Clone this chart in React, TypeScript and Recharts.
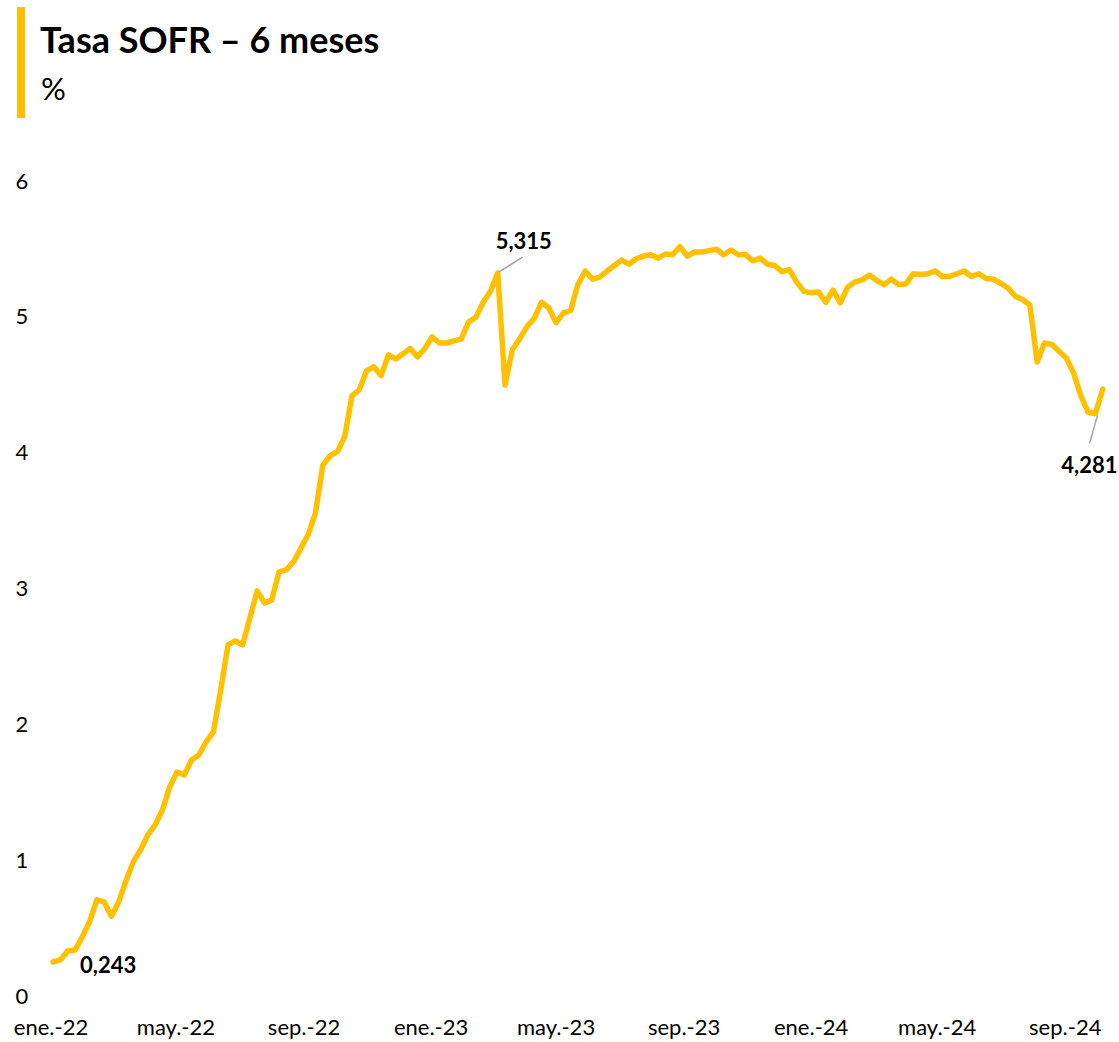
import React from "react";
import { LineChart, Line, XAxis, YAxis } from "recharts";

// weekly observations (Mondays)
const dates = [
  "2022-01-03", "2022-01-10", "2022-01-17", "2022-01-24", "2022-01-31", "2022-02-07", "2022-02-14", "2022-02-21", "2022-02-28",
  "2022-03-07", "2022-03-14", "2022-03-21", "2022-03-28", "2022-04-04", "2022-04-11", "2022-04-18", "2022-04-25",
  "2022-05-02", "2022-05-09", "2022-05-16", "2022-05-23", "2022-05-30", "2022-06-06", "2022-06-13", "2022-06-20", "2022-06-27",
  "2022-07-04", "2022-07-11", "2022-07-18", "2022-07-25", "2022-08-01", "2022-08-08", "2022-08-15", "2022-08-22", "2022-08-29",
  "2022-09-05", "2022-09-12", "2022-09-19", "2022-09-26", "2022-10-03", "2022-10-10", "2022-10-17", "2022-10-24", "2022-10-31",
  "2022-11-07", "2022-11-14", "2022-11-21", "2022-11-28", "2022-12-05", "2022-12-12", "2022-12-19", "2022-12-26",
  "2023-01-02", "2023-01-09", "2023-01-16", "2023-01-23", "2023-01-30", "2023-02-06", "2023-02-13", "2023-02-20", "2023-02-27",
  "2023-03-06", "2023-03-13", "2023-03-20", "2023-03-27", "2023-04-03", "2023-04-10", "2023-04-17", "2023-04-24",
  "2023-05-01", "2023-05-08", "2023-05-15", "2023-05-22", "2023-05-29", "2023-06-05", "2023-06-12", "2023-06-19", "2023-06-26",
  "2023-07-03", "2023-07-10", "2023-07-17", "2023-07-24", "2023-07-31", "2023-08-07", "2023-08-14", "2023-08-21", "2023-08-28",
  "2023-09-04", "2023-09-11", "2023-09-18", "2023-09-25", "2023-10-02", "2023-10-09", "2023-10-16", "2023-10-23", "2023-10-30",
  "2023-11-06", "2023-11-13", "2023-11-20", "2023-11-27", "2023-12-04", "2023-12-11", "2023-12-18", "2023-12-25",
  "2024-01-01", "2024-01-08", "2024-01-15", "2024-01-22", "2024-01-29", "2024-02-05", "2024-02-12", "2024-02-19", "2024-02-26",
  "2024-03-04", "2024-03-11", "2024-03-18", "2024-03-25", "2024-04-01", "2024-04-08", "2024-04-15", "2024-04-22", "2024-04-29",
  "2024-05-06", "2024-05-13", "2024-05-20", "2024-05-27", "2024-06-03", "2024-06-10", "2024-06-17", "2024-06-24",
  "2024-07-01", "2024-07-08", "2024-07-15", "2024-07-22", "2024-07-29", "2024-08-05", "2024-08-12", "2024-08-19", "2024-08-26",
  "2024-09-02", "2024-09-09", "2024-09-16", "2024-09-23", "2024-09-30", "2024-10-07",
];

const sofr6m = [
  0.243, 0.258, 0.324, 0.331, 0.427, 0.538, 0.7, 0.685, 0.58,
  0.685, 0.84, 0.98, 1.068, 1.178, 1.252, 1.362, 1.532,
  1.642, 1.62, 1.73, 1.767, 1.863, 1.937, 2.246, 2.577, 2.607,
  2.577, 2.776, 2.975, 2.887, 2.909, 3.115, 3.13, 3.19, 3.29,
  3.39, 3.55, 3.9, 3.97, 4.0, 4.11, 4.41, 4.455, 4.595,
  4.625, 4.56, 4.713, 4.683, 4.72, 4.76, 4.698, 4.76,
  4.845, 4.8, 4.8, 4.816, 4.83, 4.955, 4.99, 5.1, 5.18,
  5.315, 4.49, 4.75, 4.83, 4.92, 4.98, 5.1, 5.06,
  4.95, 5.02, 5.04, 5.23, 5.33, 5.27, 5.285, 5.33, 5.37,
  5.41, 5.38, 5.42, 5.44, 5.45, 5.425, 5.455, 5.45, 5.51,
  5.44, 5.47, 5.47, 5.48, 5.49, 5.45, 5.485, 5.45, 5.45,
  5.405, 5.425, 5.38, 5.37, 5.325, 5.34, 5.25, 5.18,
  5.17, 5.175, 5.1, 5.19, 5.095, 5.21, 5.25, 5.265, 5.3,
  5.26, 5.23, 5.27, 5.23, 5.235, 5.31, 5.305, 5.31, 5.33,
  5.29, 5.29, 5.31, 5.33, 5.29, 5.31, 5.275, 5.27,
  5.24, 5.205, 5.145, 5.12, 5.08, 4.66, 4.8, 4.79, 4.74,
  4.69, 4.58, 4.41, 4.29, 4.281, 4.46,
];

const tickDates = [
  "2022-01-01", "2022-05-01", "2022-09-01", "2023-01-01", "2023-05-01",
  "2023-09-01", "2024-01-01", "2024-05-01", "2024-09-01",
];
const tickLabels = [
  "ene.-22", "may.-22", "sep.-22", "ene.-23", "may.-23",
  "sep.-23", "ene.-24", "may.-24", "sep.-24",
];
const yTicks = [0, 1, 2, 3, 4, 5, 6];

// points that carry a value label
const labelled = [0, 61, 143];

const GOLD = "#FFC000";
const FONT = "Lato, 'Noto Sans', sans-serif";

const origin = Date.UTC(2022, 0, 1);
const dayOf = (s: string) => {
  const [y, m, d] = s.split("-").map(Number);
  return Math.round((Date.UTC(y, m - 1, d) - origin) / 86400000);
};

const data = dates.map((d, i) => ({ day: dayOf(d), rate: sofr6m[i] }));
const xTicks = tickDates.map(dayOf);

const fmt = (v: number) => v.toFixed(3).replace(".", ",");

const XTick = (props: any) => {
  const { x, y, payload } = props;
  const i = xTicks.indexOf(payload.value);
  return (
    <text x={x} y={y + 31} textAnchor="middle" dominantBaseline="central" fontSize={22} fill="#000" fontFamily={FONT}>
      {tickLabels[i]}
    </text>
  );
};

const YTick = (props: any) => {
  const { y, payload } = props;
  return (
    <text x={22} y={y} textAnchor="middle" dominantBaseline="central" fontSize={22} fill="#000" fontFamily={FONT}>
      {payload.value}
    </text>
  );
};

const renderLabel = (props: any) => {
  const { x, y, index, value } = props;
  if (!labelled.includes(index)) return null;
  const txt = fmt(value);
  const style = { fontSize: 22, fontWeight: 700, fill: "#000", fontFamily: FONT };
  if (index === 0) {
    return (
      <text key={index} x={x + 55} y={y + 3} textAnchor="middle" dominantBaseline="central" {...style}>
        {txt}
      </text>
    );
  }
  if (index === 61) {
    return (
      <g key={index}>
        <line x1={x + 1} y1={y - 1} x2={x + 25} y2={y - 16} stroke="#A6A6A6" strokeWidth={1.5} />
        <text x={x + 26} y={y - 33} textAnchor="middle" dominantBaseline="central" {...style}>
          {txt}
        </text>
      </g>
    );
  }
  return (
    <g key={index}>
      <line x1={x + 2} y1={y + 2} x2={x - 6} y2={y + 30} stroke="#A6A6A6" strokeWidth={1.5} />
      <text x={x - 6} y={y + 51} textAnchor="middle" dominantBaseline="central" {...style}>
        {txt}
      </text>
    </g>
  );
};

export default function App() {
  return (
    <div style={{ position: "absolute", left: 0, top: 0, width: 1119, height: 1042, background: "#fff" }}>
      <svg width={1119} height={130} style={{ position: "absolute", left: 0, top: 0 }}>
        <rect x={17} y={7} width={8} height={111} fill={GOLD} />
        <text x={40} y={53} fontSize={36} fontWeight={700} fill="#000" fontFamily={FONT}>
          Tasa SOFR – 6 meses
        </text>
        <text x={41} y={100} fontSize={31} fill="#000" fontFamily={FONT}>
          %
        </text>
      </svg>
      <div style={{ position: "absolute", left: 0, top: 0 }}>
        <LineChart width={1119} height={1042} data={data} margin={{ top: 180, right: 10, bottom: 0, left: 0 }}>
          <XAxis
            dataKey="day"
            type="number"
            domain={[0, 1016]}
            ticks={xTicks}
            tick={<XTick />}
            axisLine={false}
            tickLine={false}
            tickSize={0}
            tickMargin={0}
            height={47}
            interval={0}
          />
          <YAxis
            domain={[0, 6]}
            ticks={yTicks}
            tick={<YTick />}
            axisLine={false}
            tickLine={false}
            width={51}
            interval={0}
          />
          <Line
            type="linear"
            dataKey="rate"
            stroke={GOLD}
            strokeWidth={5.5}
            strokeLinejoin="round"
            strokeLinecap="round"
            dot={false}
            isAnimationActive={false}
            label={renderLabel}
          />
        </LineChart>
      </div>
    </div>
  );
}
